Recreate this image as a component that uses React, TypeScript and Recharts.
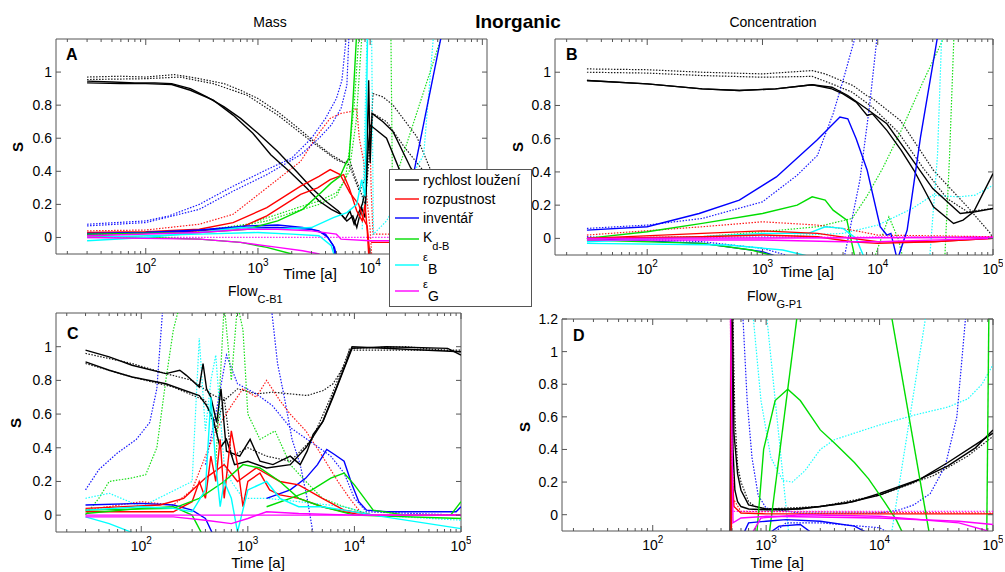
import React from "react";
import { LineChart, Line, XAxis, YAxis, ReferenceLine } from "recharts";

type P = [number, number];
type S = { pts: P[]; c: string; d?: boolean };

const K = "#000000";
const R = "#ff0000";
const B = "#0000ff";
const G = "#00dd00";
const C = "#00ffff";
const M = "#ff00ff";
const AX = "#555555";
const FONT = "'Liberation Sans', Arial, sans-serif";

const X_MIN = 15.85;
const xTicks = [
  20, 30, 40, 50, 60, 70, 80, 90, 100, 200, 300, 400, 500, 600, 700, 800, 900, 1000, 2000, 3000, 4000,
  5000, 6000, 7000, 8000, 9000, 10000, 20000, 30000, 40000, 50000, 60000, 70000, 80000, 90000, 100000,
];
const yTicks = [0, 0.2, 0.4, 0.6, 0.8, 1];
const yTicksD = [0, 0.2, 0.4, 0.6, 0.8, 1, 1.2];

// ---- A: Mass ----
const aBk1: P[] = [[30,0.945],[50,0.94],[80,0.935],[120,0.935],[170,0.93],[250,0.9],[350,0.85],[500,0.79],[700,0.72],[1000,0.63],[1500,0.52],[2200,0.4],[3000,0.3],[4000,0.22],[5200,0.16],[6000,0.11],[6600,0.16],[7200,0.08],[7800,0.14],[8500,0.2],[9200,0.3],[9700,0.95],[10000,0.45],[10400,0.75],[13000,0.7],[16000,0.64],[23000,0.42],[40000,0.2],[100000,0.05]];
const aBk2: P[] = [[30,0.935],[60,0.93],[100,0.93],[170,0.925],[250,0.89],[400,0.83],[600,0.74],[900,0.63],[1300,0.5],[1900,0.4],[2700,0.3],[3500,0.22],[4500,0.17],[5500,0.14],[6200,0.1],[7000,0.13],[7600,0.06],[8400,0.18],[9000,0.12],[9500,0.5],[10000,0.68],[14000,0.6],[18500,0.4],[40000,0.15],[100000,0.02]];
const aBkD1: P[] = [[30,0.97],[60,0.975],[100,0.97],[180,0.985],[300,0.96],[500,0.93],[700,0.89],[1000,0.84],[1500,0.76],[2200,0.67],[3300,0.57],[4500,0.5],[6000,0.45],[6500,0.48],[7200,0.38],[8000,0.3],[9000,0.2],[10000,0.55],[10600,0.87],[13000,0.85],[16000,0.8],[26000,0.61],[34000,0.42],[60000,0.1],[100000,0.0]];
const aBkD2: P[] = [[30,0.955],[100,0.96],[200,0.97],[400,0.93],[800,0.86],[1500,0.74],[3000,0.58],[5000,0.47],[6500,0.44],[8000,0.28],[9000,0.35],[10600,0.75],[14000,0.7],[20000,0.55],[30000,0.4],[100000,0.0]];
const aR1: P[] = [[30,0.03],[100,0.035],[300,0.05],[600,0.09],[1200,0.18],[2400,0.31],[3500,0.37],[4400,0.41],[5400,0.38],[6600,0.27],[7900,0.2],[8600,0.12],[9400,0.07],[10100,-0.15]];
const aR2: P[] = [[30,0.02],[100,0.025],[300,0.04],[700,0.06],[1200,0.13],[2400,0.26],[3400,0.3],[4400,0.35],[5800,0.38],[6500,0.3],[7600,0.16],[8500,0.1],[9000,0.2],[9400,0.05],[9800,-0.15]];
const aR3: P[] = [[10200,-0.03],[100000,-0.03]];
const aRD1: P[] = [[30,0.04],[100,0.045],[160,0.06],[300,0.08],[600,0.14],[1200,0.3],[2400,0.46],[3400,0.62],[4400,0.72],[5500,0.75],[6600,0.76],[7600,0.78],[8000,0.6],[8800,0.45],[9400,0.22],[10000,0.05],[10400,-0.15]];
const aRD2: P[] = [[9800,0.8],[10200,0.3],[10600,0.02],[100000,0.02]];
const aBlD1: P[] = [[30,0.08],[100,0.1],[160,0.13],[300,0.2],[600,0.31],[1200,0.41],[2000,0.48],[3000,0.6],[4000,0.72],[5000,0.84],[5600,0.95],[6200,1.25]];
const aBlD2: P[] = [[30,0.07],[100,0.09],[300,0.17],[600,0.28],[1200,0.38],[2400,0.5],[3500,0.6],[4500,0.68],[5500,0.78],[6200,0.92],[6500,1.25]];
const aBl1: P[] = [[30,0.025],[100,0.03],[300,0.045],[800,0.07],[1500,0.075],[2500,0.06],[3500,0.04],[4200,0.0],[4800,-0.06],[5200,-0.15]];
const aBl2: P[] = [[30,0.02],[200,0.035],[700,0.06],[1500,0.06],[3000,0.05],[4000,0.02],[4700,-0.05],[5000,-0.15]];
const aBl3: P[] = [[23000,0.3],[44000,1.25]];
const aG1: P[] = [[30,0.01],[300,-0.01],[700,-0.03],[1200,-0.06],[2000,-0.1],[2500,-0.15]];
const aG2: P[] = [[30,0.02],[300,0.03],[800,0.05],[1500,0.1],[2500,0.17],[3500,0.26],[4500,0.33],[5400,0.37],[6000,0.44],[6500,0.48],[7000,0.8],[7600,1.25]];
const aGD1: P[] = [[30,0.02],[300,0.04],[800,0.08],[1500,0.14],[2500,0.19],[3500,0.22],[5000,0.27],[6000,0.35],[6600,0.55],[7200,0.8],[8000,1.25]];
const aGD2: P[] = [[30,0.015],[500,0.05],[1200,0.1],[2000,0.15],[3500,0.2],[5000,0.25],[6500,0.4],[7500,0.7],[8500,1.25]];
const aGD3: P[] = [[15300,1.25],[15800,0.3],[45000,1.25]];
const aC1: P[] = [[30,-0.02],[100,0.0],[300,0.03],[700,0.06],[1500,0.05],[3000,0.06],[4700,0.12],[6200,0.15],[7600,0.2],[8400,0.35],[9000,0.25],[9500,1.25]];
const aC2: P[] = [[30,0.0],[300,0.02],[1000,0.03],[2000,0.02],[3500,0.01],[4500,-0.05],[5000,-0.15]];
const aCD1: P[] = [[8500,0.05],[9400,1.25],[10300,1.25],[10700,0.02],[14000,0.1],[30000,0.5],[37000,1.25]];
const aM1: P[] = [[30,0.01],[300,0.03],[800,0.05],[1500,0.05],[3000,0.04],[5000,0.02],[5500,-0.01],[10000,-0.02],[100000,-0.02]];
const aM2: P[] = [[30,0.0],[300,-0.01],[700,-0.03],[1500,-0.06],[2500,-0.08],[3500,-0.1],[4000,-0.15]];
const aMD: P[] = [[30,0.0],[100000,0.0]];

// ---- B: Concentration ----
const bBk1: P[] = [[30,0.95],[100,0.93],[300,0.9],[630,0.89],[1300,0.9],[2700,0.925],[4000,0.9],[5000,0.87],[6500,0.82],[8100,0.74],[9000,0.75],[12000,0.65],[16000,0.53],[20600,0.41],[30400,0.19],[45500,0.09],[55000,0.11],[68000,0.16],[100000,0.39]];
const bBk2: P[] = [[30,0.95],[100,0.93],[300,0.9],[630,0.89],[1300,0.9],[2700,0.925],[4000,0.91],[5500,0.86],[8000,0.78],[12000,0.69],[20600,0.46],[30000,0.3],[52000,0.15],[70000,0.16],[100000,0.18]];
const bBkD1: P[] = [[30,1.02],[100,1.015],[300,1.0],[1000,0.99],[2700,1.01],[3500,0.99],[6100,0.92],[8000,0.86],[9100,0.84],[15700,0.71],[30400,0.41],[60000,0.19],[95000,0.03],[100000,0.0]];
const bBkD2: P[] = [[30,1.0],[100,0.995],[300,0.98],[1000,0.97],[2700,0.975],[4000,0.93],[6000,0.88],[9000,0.79],[15000,0.64],[25000,0.42],[40000,0.24],[60000,0.16],[100000,0.18]];
const bBl1: P[] = [[30,0.05],[100,0.07],[282,0.15],[630,0.23],[1320,0.37],[2960,0.59],[4700,0.73],[5500,0.72],[6500,0.6],[8100,0.41],[10500,0.07],[12000,0.02],[13000,0.03],[14800,-0.13],[18000,0.05],[23500,0.61],[33700,1.25]];
const bBlD1: P[] = [[30,0.06],[100,0.08],[300,0.12],[1000,0.22],[2000,0.38],[3000,0.5],[4100,0.75],[5000,0.95],[6600,1.25]];
const bBlD2: P[] = [[5000,-0.15],[7000,0.35],[8500,0.8],[10000,1.25]];
const bBl2: P[] = [[30,0.0],[300,-0.03],[1000,-0.08],[1500,-0.12]];
const bBlD3: P[] = [[30,0.01],[300,-0.02],[1000,-0.06],[2000,-0.12]];
const bG1: P[] = [[30,0.0],[100,0.04],[300,0.09],[1000,0.15],[2000,0.2],[2700,0.25],[3500,0.23],[4100,0.17],[5400,0.11],[6500,-0.15]];
const bG2: P[] = [[30,-0.01],[300,-0.03],[800,-0.07],[1500,-0.12]];
const bGD1: P[] = [[30,0.0],[300,0.01],[1000,0.04],[3000,0.07],[6000,0.12],[8000,0.25],[11000,0.42],[16000,0.65],[25000,0.95],[40000,1.25]];
const bGD2: P[] = [[9000,-0.15],[12500,0.13],[15000,0.0],[17000,-0.15]];
const bGD3: P[] = [[38000,-0.15],[42000,0.5],[46000,1.25]];
const bC1: P[] = [[30,-0.02],[300,0.01],[1000,0.03],[2500,0.03],[3500,0.07],[5000,0.06],[6500,0.0],[8000,-0.15]];
const bC2: P[] = [[30,-0.03],[500,-0.04],[1500,-0.07],[3000,-0.12]];
const bCD1: P[] = [[30,0.0],[1000,0.01],[5000,0.03],[10000,0.08],[20000,0.18],[30000,0.26],[50000,0.25],[70000,0.26],[100000,0.32]];
const bCD2: P[] = [[28000,-0.15],[33000,0.5],[36000,1.25]];
const bR1: P[] = [[30,0.0],[300,0.03],[1000,0.045],[3000,0.03],[6000,0.0],[10000,-0.02],[30000,-0.02],[100000,0.0]];
const bR2: P[] = [[30,0.0],[300,0.01],[1000,0.02],[3000,0.01],[6000,-0.02],[10000,-0.03],[30000,-0.02],[100000,0.0]];
const bRD1: P[] = [[30,0.02],[300,0.07],[1000,0.1],[3000,0.08],[6000,0.05],[10000,0.02],[100000,0.01]];
const bM1: P[] = [[30,-0.01],[1000,-0.01],[5000,-0.02],[10000,-0.02],[100000,0.0]];
const bM2: P[] = [[30,0.0],[100000,0.005]];
const bMD: P[] = [[30,0.005],[100000,0.01]];

// ---- C: Flow C-B1 ----
const cBk1: P[] = [[30,0.98],[50,0.94],[82,0.89],[170,0.84],[230,0.86],[265,0.83],[350,0.76],[380,0.9],[410,0.75],[450,0.7],[510,0.55],[560,0.75],[630,0.38],[840,0.35],[1050,0.45],[1300,0.32],[1720,0.3],[2500,0.35],[3100,0.3],[3600,0.38],[4100,0.48],[5100,0.56],[6300,0.7],[7900,0.86],[9500,0.99],[20000,1.0],[75000,0.99],[100000,0.95]];
const cBk2: P[] = [[30,0.91],[50,0.86],[82,0.82],[170,0.78],[350,0.71],[410,0.65],[470,0.58],[550,0.4],[630,0.45],[750,0.3],[1000,0.32],[1500,0.28],[2500,0.3],[3500,0.4],[5000,0.55],[7000,0.78],[9500,1.0],[100000,0.97]];
const cBkD1: P[] = [[30,0.96],[82,0.9],[170,0.84],[300,0.8],[450,0.72],[600,0.68],[800,0.75],[1200,0.72],[1720,0.73],[2500,0.72],[3600,0.71],[5100,0.74],[6300,0.78],[8300,0.9],[9000,0.99],[30000,1.0],[100000,0.97]];
const cBkD2: P[] = [[30,0.9],[82,0.82],[200,0.76],[400,0.68],[500,0.5],[600,0.7],[700,0.35],[1000,0.4],[1500,0.35],[2500,0.32],[4000,0.45],[6000,0.7],[9000,0.98],[100000,0.98]];
const cBlD1: P[] = [[30,0.15],[40,0.27],[60,0.37],[90,0.45],[120,0.55],[140,0.75],[160,1.25]];
const cBlD2: P[] = [[1650,1.25],[1900,0.9],[2200,0.7],[2600,0.45],[3100,0.3],[3600,0.1],[4200,-0.15]];
const cBlD3: P[] = [[400,0.3],[500,0.6],[630,0.95],[800,0.78],[1200,0.72],[1700,0.65],[2500,0.52],[4000,0.43],[6000,0.35],[8000,0.25],[10000,0.1],[13000,0.02],[100000,0.0]];
const cBl1: P[] = [[30,0.06],[100,0.07],[200,0.06],[300,0.03],[400,-0.02],[500,-0.15]];
const cBl2: P[] = [[1500,0.1],[2500,0.15],[3500,0.22],[4500,0.3],[5500,0.39],[6500,0.36],[8000,0.32],[9500,0.18],[11000,0.08],[13000,0.03],[20000,0.02],[90000,0.02],[100000,0.05]];
const cRD1: P[] = [[30,0.03],[100,0.08],[200,0.06],[300,0.15],[400,0.35],[500,0.5],[700,0.65],[900,0.75],[1200,0.7],[1500,0.8],[2000,0.68],[2500,0.6],[3500,0.5],[5000,0.35],[7000,0.2],[9000,0.1],[12000,0.0]];
const cR1: P[] = [[30,0.02],[200,0.02],[300,0.08],[350,0.2],[400,0.1],[450,0.35],[500,0.2],[550,0.45],[600,0.1],[700,0.5],[800,0.3],[900,0.05],[1000,0.2],[1300,0.25],[1600,0.15],[2000,0.12],[3000,0.1],[5000,0.05],[8000,0.02],[12000,0.0],[100000,0.0]];
const cR2: P[] = [[30,0.04],[150,0.06],[250,0.1],[400,0.22],[600,0.3],[800,0.2],[1200,0.28],[2000,0.2],[3000,0.18],[5000,0.1],[8000,0.03],[15000,0.0]];
const cGD1: P[] = [[30,0.0],[40,0.1],[50,0.2],[80,0.22],[110,0.24],[140,0.4],[170,0.8],[200,1.1],[230,1.25]];
const cGD2: P[] = [[500,0.3],[600,1.25],[700,0.8],[800,1.25],[900,1.1],[1000,0.6],[1300,0.45],[1800,0.5],[2500,0.3],[3500,0.2],[5000,0.1],[8000,0.05],[15000,0.0]];
const cG1: P[] = [[30,0.01],[100,0.04],[200,0.05],[300,0.0],[400,-0.15]];
const cG2: P[] = [[1500,0.05],[2500,0.1],[4000,0.15],[6000,0.22],[8000,0.25],[10000,0.18],[15000,0.03],[30000,0.0],[80000,0.0],[100000,0.08]];
const cG3: P[] = [[30,0.03],[200,0.04],[350,0.1],[600,0.2],[900,0.3],[1300,0.28],[2000,0.2],[3000,0.1],[5000,0.05],[10000,0.0],[100000,-0.02]];
const cCD1: P[] = [[30,0.1],[50,0.13],[100,0.05],[300,0.2],[350,1.05],[400,0.5],[450,0.8],[500,0.95],[550,0.6],[600,0.3],[700,0.2],[900,0.1],[1500,0.1],[3000,0.08],[8000,0.05],[15000,0.0],[100000,-0.03]];
const cC1: P[] = [[30,0.03],[100,0.05],[200,0.04],[300,0.02],[400,0.15],[450,0.7],[500,0.3],[550,0.05],[600,0.2],[700,0.1],[800,-0.1],[1000,0.15],[1500,0.2],[2000,0.1],[3000,0.05],[5000,0.05],[8000,0.03],[15000,0.0],[100000,-0.08]];
const cC2: P[] = [[30,-0.01],[50,-0.05],[80,-0.1],[100,-0.15]];
const cM1: P[] = [[30,0.0],[100000,0.0]];
const cM2: P[] = [[30,-0.01],[200,-0.01],[400,-0.03],[700,-0.05],[1000,-0.02],[1500,0.02],[3000,0.01],[10000,0.0],[100000,0.0]];

// ---- D: Flow G-P1 ----
const dBk1: P[] = [[480,-0.15],[490,1.5],[500,0.9],[510,0.4],[530,0.15],[560,0.08],[600,0.05],[700,0.035],[1000,0.03],[1500,0.03],[3000,0.05],[5900,0.08],[10000,0.13],[23000,0.22],[40000,0.32],[70000,0.43],[100000,0.5]];
const dBk2: P[] = [[500,1.5],[520,0.5],[560,0.25],[600,0.15],[700,0.06],[1000,0.035],[2000,0.035],[5000,0.07],[10000,0.12],[20000,0.2],[40000,0.3],[70000,0.41],[100000,0.52]];
const dBkD1: P[] = [[495,-0.15],[500,1.5],[530,0.6],[560,0.3],[600,0.2],[700,0.08],[800,0.05],[1000,0.035],[3000,0.05],[10000,0.12],[30000,0.24],[60000,0.36],[100000,0.48]];
const dG1: P[] = [[820,-0.15],[950,0.4],[1200,0.7],[1550,0.77],[2000,0.7],[3000,0.52],[4000,0.44],[6000,0.32],[8000,0.22],[11000,0.08],[14000,-0.03],[17000,-0.15]];
const dG2: P[] = [[1050,-0.15],[1900,1.25]];
const dG3: P[] = [[12500,1.25],[28000,-0.15]];
const dG4: P[] = [[88000,-0.15],[92000,1.25]];
const dCD1: P[] = [[760,1.25],[900,0.7],[1100,0.35],[1400,0.21],[1700,0.2],[2200,0.27],[3000,0.4],[4000,0.46],[6000,0.5],[10000,0.55],[20000,0.61],[40000,0.66],[60000,0.71],[80000,0.8],[100000,0.92]];
const dCD2: P[] = [[1000,1.25],[1600,-0.15]];
const dCD3: P[] = [[12500,-0.15],[26000,1.25]];
const dBlD1: P[] = [[620,1.25],[680,0.7],[750,0.35],[850,0.12],[1000,0.04],[2000,0.01],[5000,0.01],[10000,0.01],[15000,0.03],[20000,0.06],[28000,0.13],[38000,0.3],[48000,0.6],[58000,1.25]];
const dBl1: P[] = [[600,-0.15],[700,-0.05],[1000,-0.04],[1500,-0.03],[3000,-0.04],[6000,-0.07],[10000,-0.15]];
const dBl2: P[] = [[900,-0.15],[1300,-0.07],[2000,-0.06],[3000,-0.15]];
const dBlD2: P[] = [[1000,-0.15],[1500,-0.05],[3000,-0.05],[10000,-0.08],[15000,-0.15]];
const dR1: P[] = [[485,1.5],[492,-0.15],[500,0.3],[520,0.05],[600,0.01],[1000,0.005],[100000,0.005]];
const dRD: P[] = [[495,1.5],[510,0.1],[600,0.02],[100000,0.01]];
const dM1: P[] = [[480,1.5],[510,-0.05],[600,-0.02],[1000,-0.01],[10000,-0.02],[50000,-0.04],[100000,-0.06]];
const dM2: P[] = [[700,-0.15],[900,-0.02],[2000,0.0],[10000,-0.01],[50000,-0.05],[90000,-0.1]];
const dMD: P[] = [[480,1.5],[500,0.02],[100000,0.02]];

const seriesA: S[] = [
  { pts: aBkD1, c: K, d: true }, { pts: aBkD2, c: K, d: true },
  { pts: aRD1, c: R, d: true }, { pts: aRD2, c: R, d: true },
  { pts: aBlD1, c: B, d: true }, { pts: aBlD2, c: B, d: true },
  { pts: aGD1, c: G, d: true }, { pts: aGD2, c: G, d: true }, { pts: aGD3, c: G, d: true },
  { pts: aCD1, c: C, d: true }, { pts: aMD, c: M, d: true },
  { pts: aBk1, c: K }, { pts: aBk2, c: K }, { pts: aR1, c: R }, { pts: aR2, c: R }, { pts: aR3, c: R },
  { pts: aBl1, c: B }, { pts: aBl2, c: B }, { pts: aBl3, c: B },
  { pts: aG1, c: G }, { pts: aG2, c: G }, { pts: aC1, c: C }, { pts: aC2, c: C },
  { pts: aM1, c: M }, { pts: aM2, c: M },
];
const seriesB: S[] = [
  { pts: bBkD1, c: K, d: true }, { pts: bBkD2, c: K, d: true },
  { pts: bBlD1, c: B, d: true }, { pts: bBlD2, c: B, d: true }, { pts: bBlD3, c: B, d: true },
  { pts: bGD1, c: G, d: true }, { pts: bGD2, c: G, d: true }, { pts: bGD3, c: G, d: true },
  { pts: bCD1, c: C, d: true }, { pts: bCD2, c: C, d: true },
  { pts: bRD1, c: R, d: true }, { pts: bMD, c: M, d: true },
  { pts: bBk1, c: K }, { pts: bBk2, c: K }, { pts: bBl1, c: B }, { pts: bBl2, c: B },
  { pts: bG1, c: G }, { pts: bG2, c: G }, { pts: bC1, c: C }, { pts: bC2, c: C },
  { pts: bR1, c: R }, { pts: bR2, c: R }, { pts: bM1, c: M }, { pts: bM2, c: M },
];
const seriesC: S[] = [
  { pts: cBkD1, c: K, d: true }, { pts: cBkD2, c: K, d: true },
  { pts: cBlD1, c: B, d: true }, { pts: cBlD2, c: B, d: true }, { pts: cBlD3, c: B, d: true },
  { pts: cRD1, c: R, d: true }, { pts: cGD1, c: G, d: true }, { pts: cGD2, c: G, d: true },
  { pts: cCD1, c: C, d: true },
  { pts: cBk1, c: K }, { pts: cBk2, c: K }, { pts: cBl1, c: B }, { pts: cBl2, c: B },
  { pts: cR1, c: R }, { pts: cR2, c: R }, { pts: cG1, c: G }, { pts: cG2, c: G }, { pts: cG3, c: G },
  { pts: cC1, c: C }, { pts: cC2, c: C }, { pts: cM1, c: M }, { pts: cM2, c: M },
];
const seriesD: S[] = [
  { pts: dBkD1, c: K, d: true }, { pts: dCD1, c: C, d: true }, { pts: dCD2, c: C, d: true }, { pts: dCD3, c: C, d: true },
  { pts: dBlD1, c: B, d: true }, { pts: dBlD2, c: B, d: true }, { pts: dRD, c: R, d: true }, { pts: dMD, c: M, d: true },
  { pts: dBk1, c: K }, { pts: dBk2, c: K }, { pts: dG1, c: G }, { pts: dG2, c: G }, { pts: dG3, c: G }, { pts: dG4, c: G },
  { pts: dBl1, c: B }, { pts: dBl2, c: B }, { pts: dR1, c: R }, { pts: dM1, c: M }, { pts: dM2, c: M },
];

function XTick(props: any) {
  const { x, y, payload, h } = props;
  const lg = Math.log10(payload.value);
  const e = Math.round(lg);
  const major = Math.abs(lg - e) < 1e-6;
  const len = major ? 6 : 3;
  return (
    <g>
      <line x1={x} x2={x} y1={y} y2={y - len} stroke={AX} />
      <line x1={x} x2={x} y1={y - h} y2={y - h + len} stroke={AX} />
      {major && (
        <text x={x} y={y + 19} textAnchor="middle" fontSize={14} fontFamily={FONT} fill="#000">
          10<tspan dy={-7} fontSize={10}>{e}</tspan>
        </text>
      )}
    </g>
  );
}

function YTick(props: any) {
  const { x, y, payload, w } = props;
  return (
    <g>
      <line x1={x} x2={x + 5} y1={y} y2={y} stroke={AX} />
      <line x1={x + w} x2={x + w - 5} y1={y} y2={y} stroke={AX} />
      <text x={x - 4} y={y + 5} textAnchor="end" fontSize={14} fontFamily={FONT} fill="#000">
        {payload.value}
      </text>
    </g>
  );
}

function Panel(props: { x: number; y: number; w: number; h: number; xMax: number; yMax: number; yt: number[]; series: S[] }) {
  const { x, y, w, h, xMax, yMax, yt, series } = props;
  const L = 50, T = 10, Bm = 30, Rm = 10;
  return (
    <div style={{ position: "absolute", left: x - L, top: y - T }}>
      <LineChart width={w + L + Rm} height={h + T + Bm} margin={{ top: T, right: Rm, bottom: 0, left: 0 }}>
        <XAxis
          dataKey="t" type="number" scale="log" domain={[X_MIN, xMax]} allowDataOverflow
          ticks={xTicks} interval={0} tickSize={0} tickMargin={0} height={Bm} tickLine={false}
          axisLine={{ stroke: AX }} tick={(p: any) => <XTick {...p} h={h} />}
        />
        <YAxis
          type="number" domain={[-0.1, yMax]} allowDataOverflow ticks={yt} interval={0}
          tickSize={0} tickMargin={0} width={L} tickLine={false} axisLine={{ stroke: AX }}
          tick={(p: any) => <YTick {...p} w={w} />}
        />
        <ReferenceLine y={yMax} stroke={AX} ifOverflow="visible" />
        <ReferenceLine x={xMax} stroke={AX} ifOverflow="visible" />
        {series.map((s, i) => (
          <Line
            key={i}
            data={s.pts.map(([t, v]) => ({ t, v }))}
            dataKey="v"
            type="linear"
            stroke={s.c}
            strokeWidth={s.d ? 1.2 : 1.4}
            strokeDasharray={s.d ? "1.5 1.5" : undefined}
            strokeOpacity={s.d ? 0.9 : 1}
            dot={false}
            activeDot={false}
            isAnimationActive={false}
          />
        ))}
      </LineChart>
    </div>
  );
}

const legendItems = [
  { c: K, y: 180 },
  { c: R, y: 199 },
  { c: B, y: 218 },
  { c: G, y: 239 },
  { c: C, y: 265 },
  { c: M, y: 291 },
];

export default function App() {
  const t = { fontFamily: FONT, fill: "#000" };
  return (
    <div style={{ position: "absolute", left: 0, top: 0, width: 1005, height: 572, background: "#fff", overflow: "hidden" }}>
      <Panel x={56} y={39} w={431} h={215} xMax={110000} yMax={1.2} yt={yTicks} series={seriesA} />
      <Panel x={555} y={39} w={438} h={216} xMax={100000} yMax={1.2} yt={yTicks} series={seriesB} />
      <Panel x={56} y={313} w={405} h={219} xMax={100000} yMax={1.2} yt={yTicks} series={seriesC} />
      <Panel x={562} y={319} w={431} h={212} xMax={100000} yMax={1.2} yt={yTicksD} series={seriesD} />
      <svg width={1005} height={572} style={{ position: "absolute", left: 0, top: 0, pointerEvents: "none" }}>
        <text x={270} y={27} textAnchor="middle" fontSize={14} {...t}>Mass</text>
        <text x={518} y={28} textAnchor="middle" fontSize={19} fontWeight="bold" {...t}>Inorganic</text>
        <text x={773} y={27} textAnchor="middle" fontSize={14} {...t}>Concentration</text>
        <text x={228} y={296} fontSize={14} {...t}>Flow<tspan dy={7} fontSize={11}>C-B1</tspan></text>
        <text x={747} y={301} fontSize={14} {...t}>Flow<tspan dy={7} fontSize={11}>G-P1</tspan></text>
        <text x={310} y={279} textAnchor="middle" fontSize={15} {...t}>Time [a]</text>
        <text x={807} y={277} textAnchor="middle" fontSize={15} {...t}>Time [a]</text>
        <text x={258} y={568} textAnchor="middle" fontSize={15} {...t}>Time [a]</text>
        <text x={777} y={568} textAnchor="middle" fontSize={15} {...t}>Time [a]</text>
        <text transform="translate(23,147) rotate(-90)" textAnchor="middle" fontSize={15} fontWeight="bold" {...t}>S</text>
        <text transform="translate(523,147) rotate(-90)" textAnchor="middle" fontSize={15} fontWeight="bold" {...t}>S</text>
        <text transform="translate(21,423) rotate(-90)" textAnchor="middle" fontSize={15} fontWeight="bold" {...t}>S</text>
        <text transform="translate(530,427) rotate(-90)" textAnchor="middle" fontSize={15} fontWeight="bold" {...t}>S</text>
        <text x={66} y={60} fontSize={16} fontWeight="bold" {...t}>A</text>
        <text x={566} y={60} fontSize={16} fontWeight="bold" {...t}>B</text>
        <text x={67} y={339} fontSize={16} fontWeight="bold" {...t}>C</text>
        <text x={573} y={341} fontSize={16} fontWeight="bold" {...t}>D</text>
        <rect x={389.5} y={169.5} width={142} height={137} fill="#fff" stroke={AX} />
        {legendItems.map((it, i) => (
          <line key={i} x1={395} x2={419} y1={it.y} y2={it.y} stroke={it.c} strokeWidth={1.4} />
        ))}
        <text x={423} y={185} fontSize={14} {...t}>rychlost loužení</text>
        <text x={423} y={204} fontSize={14} {...t}>rozpustnost</text>
        <text x={423} y={223} fontSize={14} {...t}>inventář</text>
        <text x={423} y={242} fontSize={14} {...t}>K<tspan dy={8} fontSize={11}>d-B</tspan></text>
        <text x={423} y={261} fontSize={11} {...t}>ε<tspan dy={13} fontSize={14}>B</tspan></text>
        <text x={423} y={288} fontSize={11} {...t}>ε<tspan dy={13} fontSize={14}>G</tspan></text>
      </svg>
    </div>
  );
}
